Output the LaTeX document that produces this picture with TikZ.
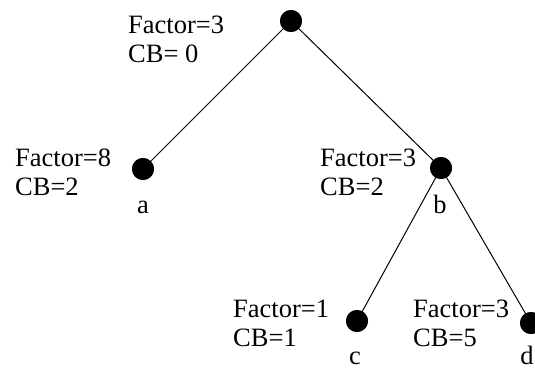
\documentclass[tikz,border=0pt]{standalone}
\usepackage{fontspec}
\setmainfont{Liberation Serif}
\begin{document}
\begin{tikzpicture}[x=1pt,y=-1pt,
  dot/.style={circle,fill=black,minimum size=22pt,inner sep=0pt},
  lbl/.style={anchor=base west,align=left,inner sep=0pt,font=\fontsize{26.5}{29}\selectfont},
  leaf/.style={anchor=base,inner sep=0pt,font=\fontsize{26.5}{29}\selectfont}]
\useasboundingbox (0,0) rectangle (535,369);
\node[dot] (root) at (291,21) {};
\node[dot] (a) at (143,169) {};
\node[dot] (b) at (441,168) {};
\node[dot] (c) at (357,321) {};
\node[dot] (d) at (531,323) {};
\draw[line width=1pt] (root.center) -- (a.center);
\draw[line width=1pt] (root.center) -- (b.center);
\draw[line width=1pt] (b.center) -- (c.center);
\draw[line width=1pt] (b.center) -- (d.center);
\foreach \n in {root,a,b,c,d}
  \node[dot] at (\n) {};
% labels: anchor is baseline of last line
\node[lbl] (lroot) at (128,63) {Factor=3\\CB= 0};
\node[lbl] (la) at (15,195) {Factor=8\\CB=2};
\node[lbl] (lb) at (320,195) {Factor=3\\CB=2};
\node[lbl] (lc) at (233,346) {Factor=1\\CB=1};
\node[lbl] (ld) at (413,346) {Factor=3\\CB=5};
\node[leaf] (na) at (143,213) {a};
\node[leaf] (nb) at (440,213) {b};
\node[leaf] (nc) at (355,364) {c};
\node[leaf] (nd) at (527,364) {d};
\end{tikzpicture}
\end{document}
